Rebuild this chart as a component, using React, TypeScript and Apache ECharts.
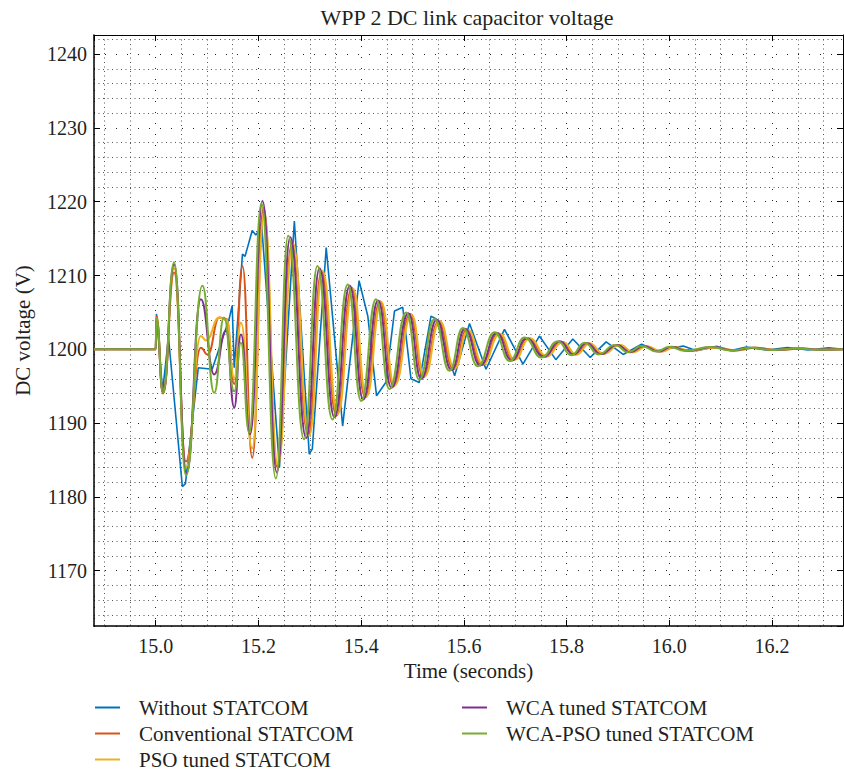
import React, { useEffect, useRef } from 'react';
import * as echarts from 'echarts';

const FONT = 'Liberation Serif';
const TEXT_COLOR = '#231f20';

// Axis extents (seconds, volts)
const X_RANGE = [14.88, 16.338];
const Y_RANGE = [1162.5, 1242.6];

// Without STATCOM
const withoutT = [14.88, 15.0, 15.0016, 15.0135, 15.025, 15.052, 15.058, 15.083, 15.110, 15.143, 15.149, 15.153, 15.169, 15.174, 15.188, 15.195, 15.2015, 15.206, 15.241, 15.270, 15.299, 15.305, 15.332, 15.364, 15.396, 15.413, 15.430, 15.448, 15.465, 15.481, 15.497, 15.513, 15.536, 15.546, 15.582, 15.611, 15.643, 15.679, 15.715, 15.747, 15.779, 15.812, 15.846, 15.877, 15.910, 15.946, 15.975, 16.027, 16.053, 16.092, 16.12, 16.15, 16.19, 16.23, 16.27, 16.31, 16.338];
const withoutV = [1200, 1200, 1204.8, 1194.3, 1201.6, 1181.4, 1181.8, 1197.5, 1197.3, 1204.1, 1205.9, 1197.5, 1212.9, 1212.6, 1216.1, 1215.5, 1216.1, 1217.2, 1184.0, 1217.4, 1185.8, 1186.5, 1213.8, 1189.6, 1209.3, 1204.5, 1193.7, 1195.5, 1205.2, 1205.7, 1196.0, 1195.5, 1204.5, 1204.1, 1196.4, 1203.5, 1197.3, 1202.7, 1198.0, 1201.8, 1198.6, 1201.4, 1198.9, 1201.0, 1199.3, 1200.7, 1199.8, 1200.45, 1199.8, 1200.4, 1199.85, 1200.3, 1199.9, 1200.25, 1199.9, 1200.2, 1200.0];

// Conventional STATCOM
const convT = [14.88, 15.0, 15.0016, 15.0144, 15.036, 15.059, 15.088, 15.101, 15.124, 15.138, 15.153, 15.169, 15.188, 15.210, 15.237, 15.266, 15.297, 15.323, 15.352, 15.382, 15.408, 15.437, 15.463, 15.496, 15.521, 15.551, 15.580, 15.606, 15.635, 15.668, 15.697, 15.726, 15.759, 15.791, 15.817, 15.843, 15.870, 15.902, 15.928, 15.954, 15.983, 16.008, 16.038, 16.088, 16.128, 16.168, 16.208, 16.258, 16.298, 16.338];
const convV = [1200, 1200, 1204.5, 1194.0, 1210.4, 1184.8, 1200.2, 1199.3, 1204.3, 1204.1, 1195.3, 1211.3, 1185.3, 1219.2, 1184.0, 1214.5, 1188.4, 1210.5, 1191.0, 1208.3, 1193.5, 1206.5, 1195.0, 1204.8, 1196.2, 1203.8, 1197.3, 1202.7, 1197.9, 1202.1, 1198.6, 1201.5, 1199.0, 1201.0, 1199.3, 1200.8, 1199.4, 1200.6, 1199.6, 1200.4, 1199.7, 1200.3, 1199.8, 1200.25, 1199.85, 1200.2, 1199.9, 1200.1, 1199.95, 1200];

// PSO tuned STATCOM
const psoT = [14.88, 15.0, 15.0016, 15.0144, 15.036, 15.059, 15.088, 15.098, 15.124, 15.138, 15.153, 15.166, 15.188, 15.211, 15.238, 15.267, 15.299, 15.325, 15.354, 15.384, 15.410, 15.439, 15.465, 15.498, 15.523, 15.553, 15.582, 15.608, 15.637, 15.670, 15.699, 15.728, 15.761, 15.793, 15.819, 15.845, 15.872, 15.904, 15.930, 15.956, 15.985, 16.010, 16.040, 16.090, 16.130, 16.170, 16.210, 16.260, 16.300, 16.338];
const psoV = [1200, 1200, 1204.2, 1194.1, 1211.0, 1184.0, 1201.8, 1201.2, 1204.3, 1204.0, 1196.1, 1203.6, 1186.6, 1218.3, 1184.2, 1214.3, 1188.3, 1210.6, 1191.2, 1208.2, 1193.6, 1206.4, 1195.1, 1204.7, 1196.3, 1203.8, 1197.4, 1202.6, 1198.0, 1202.1, 1198.6, 1201.5, 1199.1, 1201.0, 1199.3, 1200.8, 1199.4, 1200.6, 1199.6, 1200.4, 1199.7, 1200.3, 1199.8, 1200.25, 1199.85, 1200.2, 1199.9, 1200.1, 1199.95, 1200];

// WCA tuned STATCOM
const wcaT = [14.88, 15.0, 15.0016, 15.0144, 15.036, 15.060, 15.088, 15.114, 15.137, 15.153, 15.166, 15.184, 15.208, 15.236, 15.262, 15.293, 15.319, 15.348, 15.378, 15.404, 15.433, 15.459, 15.492, 15.517, 15.547, 15.576, 15.602, 15.632, 15.664, 15.693, 15.722, 15.755, 15.787, 15.813, 15.839, 15.866, 15.898, 15.924, 15.950, 15.979, 16.004, 16.034, 16.084, 16.124, 16.164, 16.204, 16.254, 16.294, 16.338];
const wcaV = [1200, 1200, 1204.0, 1194.1, 1211.5, 1183.2, 1206.8, 1196.6, 1202.5, 1192.1, 1202.0, 1188.5, 1220.1, 1183.3, 1215.2, 1188.0, 1211.0, 1190.8, 1208.6, 1193.2, 1206.6, 1194.8, 1204.9, 1196.0, 1204.0, 1197.2, 1202.8, 1197.8, 1202.2, 1198.5, 1201.5, 1199.0, 1201.1, 1199.3, 1200.85, 1199.35, 1200.6, 1199.6, 1200.45, 1199.7, 1200.35, 1199.8, 1200.3, 1199.85, 1200.2, 1199.9, 1200.1, 1199.95, 1200];

// WCA-PSO tuned STATCOM
const wcaPsoT = [14.88, 15.0, 15.0016, 15.0144, 15.036, 15.059, 15.091, 15.114, 15.133, 15.153, 15.166, 15.182, 15.206, 15.234, 15.258, 15.289, 15.315, 15.344, 15.374, 15.400, 15.429, 15.455, 15.488, 15.513, 15.543, 15.572, 15.598, 15.627, 15.660, 15.689, 15.718, 15.751, 15.783, 15.809, 15.835, 15.862, 15.894, 15.920, 15.946, 15.975, 16.000, 16.030, 16.080, 16.120, 16.160, 16.200, 16.250, 16.290, 16.338];
const wcaPsoV = [1200, 1200, 1204.2, 1194.1, 1211.8, 1182.9, 1208.6, 1194.1, 1204.3, 1194.3, 1200.9, 1188.7, 1219.8, 1182.5, 1215.4, 1187.8, 1211.3, 1190.5, 1208.8, 1193.0, 1206.8, 1194.6, 1205.0, 1195.9, 1204.1, 1197.1, 1202.9, 1197.7, 1202.3, 1198.4, 1201.6, 1198.9, 1201.1, 1199.2, 1200.9, 1199.3, 1200.6, 1199.6, 1200.45, 1199.7, 1200.35, 1199.8, 1200.3, 1199.85, 1200.2, 1199.9, 1200.1, 1199.95, 1200];

const seriesNames = ['Without STATCOM', 'Conventional STATCOM', 'PSO tuned STATCOM', 'WCA tuned STATCOM', 'WCA-PSO tuned STATCOM'];
const seriesColors = ['#0072BD', '#D95319', '#EDB120', '#7E2F8E', '#77AC30'];
const seriesTimes = [withoutT, convT, psoT, wcaT, wcaPsoT];
const seriesValues = [withoutV, convV, psoV, wcaV, wcaPsoV];

const pairs = (t: number[], v: number[]) => t.map((x, i) => [x, v[i]]);

const onStep = (v: number, step: number) => Math.abs(v / step - Math.round(v / step)) < 1e-6;

export default function App() {
  const ref = useRef<HTMLDivElement>(null);

  useEffect(() => {
    document.body.style.margin = '0';
    const chart = echarts.init(ref.current!, undefined, { renderer: 'svg' });

    const tickStyle = { fontFamily: FONT, fontSize: 20, color: TEXT_COLOR };
    const nameStyle = { fontFamily: FONT, fontSize: 21, color: TEXT_COLOR };
    const majorGrid = { show: true, lineStyle: { type: [1, 10], color: '#222', width: 1 } };
    const minorGrid = { show: true, lineStyle: { type: [1, 3.5], color: '#555', width: 1 } };

    const xBase = {
      type: 'value',
      min: X_RANGE[0],
      max: X_RANGE[1],
      minInterval: 0.2,
      maxInterval: 0.2,
      splitNumber: 7,
    };
    const yBase = {
      type: 'value',
      min: Y_RANGE[0],
      max: Y_RANGE[1],
      minInterval: 10,
      maxInterval: 10,
      splitNumber: 8,
    };

    const legendBase = {
      orient: 'vertical',
      top: 697,
      padding: 0,
      icon: 'rect',
      itemWidth: 25,
      itemHeight: 2,
      itemGap: 5,
      itemStyle: { borderWidth: 0 },
      formatter: '{t|{name}}',
      textStyle: {
        ...nameStyle,
        lineHeight: 21,
        rich: { t: { ...nameStyle, lineHeight: 21, padding: [0, 0, 0, 14] } },
      },
    };

    chart.setOption({
      animation: false,
      backgroundColor: '#fff',
      textStyle: { fontFamily: FONT },
      title: {
        text: 'WPP 2 DC link capacitor voltage',
        left: 467,
        top: 6,
        padding: 0,
        textAlign: 'center',
        textStyle: { fontFamily: FONT, fontSize: 22, fontWeight: 'normal', color: TEXT_COLOR },
      },
      grid: { left: 94, right: 1, top: 35, bottom: 147, containLabel: false },
      legend: [
        { ...legendBase, data: seriesNames.slice(0, 3), left: 95 },
        { ...legendBase, data: seriesNames.slice(3), left: 462 },
      ],
      xAxis: [
        {
          ...xBase,
          position: 'bottom',
          name: 'Time (seconds)',
          nameLocation: 'middle',
          nameGap: 33,
          nameTextStyle: nameStyle,
          axisLine: { show: true, onZero: false, lineStyle: { color: '#000', width: 1.5 } },
          axisTick: { show: true, inside: true, length: 6, lineStyle: { color: '#000' } },
          axisLabel: {
            ...tickStyle,
            margin: 10,
            showMinLabel: false,
            showMaxLabel: false,
            formatter: (v: number) => (onStep(v, 0.2) ? `{n|${v.toFixed(1)}}` : ''),
            rich: { n: tickStyle },
          },
          splitLine: majorGrid,
          minorTick: { show: false, splitNumber: 4 },
          minorSplitLine: minorGrid,
        },
        {
          ...xBase,
          position: 'top',
          axisLine: { show: true, onZero: false, lineStyle: { color: '#000', width: 1 } },
          axisTick: { show: true, inside: true, length: 6, lineStyle: { color: '#000' } },
          axisLabel: { show: false },
          splitLine: { show: false },
        },
      ],
      yAxis: [
        {
          ...yBase,
          position: 'left',
          name: 'DC voltage (V)',
          nameLocation: 'middle',
          nameGap: 61,
          nameRotate: 90,
          nameTextStyle: nameStyle,
          axisLine: { show: true, onZero: false, lineStyle: { color: '#000', width: 1.5 } },
          axisTick: { show: true, inside: true, length: 6, lineStyle: { color: '#000' } },
          axisLabel: {
            ...tickStyle,
            margin: 7,
            showMinLabel: false,
            showMaxLabel: false,
            formatter: (v: number) => (onStep(v, 10) ? `{n|${Math.round(v)}}` : ''),
            rich: { n: tickStyle },
          },
          splitLine: majorGrid,
          minorTick: { show: false, splitNumber: 5 },
          minorSplitLine: minorGrid,
        },
        {
          ...yBase,
          position: 'right',
          axisLine: { show: true, onZero: false, lineStyle: { color: '#000', width: 1 } },
          axisTick: { show: true, inside: true, length: 6, lineStyle: { color: '#000' } },
          axisLabel: { show: false },
          splitLine: { show: false },
        },
      ],
      series: seriesNames.map((name, i) => ({
        name,
        type: 'line',
        xAxisIndex: 0,
        yAxisIndex: 0,
        data: pairs(seriesTimes[i], seriesValues[i]),
        color: seriesColors[i],
        showSymbol: false,
        symbol: 'none',
        smooth: i === 0 ? false : 0.5,
        smoothMonotone: 'x',
        clip: true,
        lineStyle: { color: seriesColors[i], width: i === 0 ? 1.6 : 2 },
        z: 2 + i,
      })),
    });

    return () => chart.dispose();
  }, []);

  return <div ref={ref} style={{ width: 844, height: 773 }} />;
}
